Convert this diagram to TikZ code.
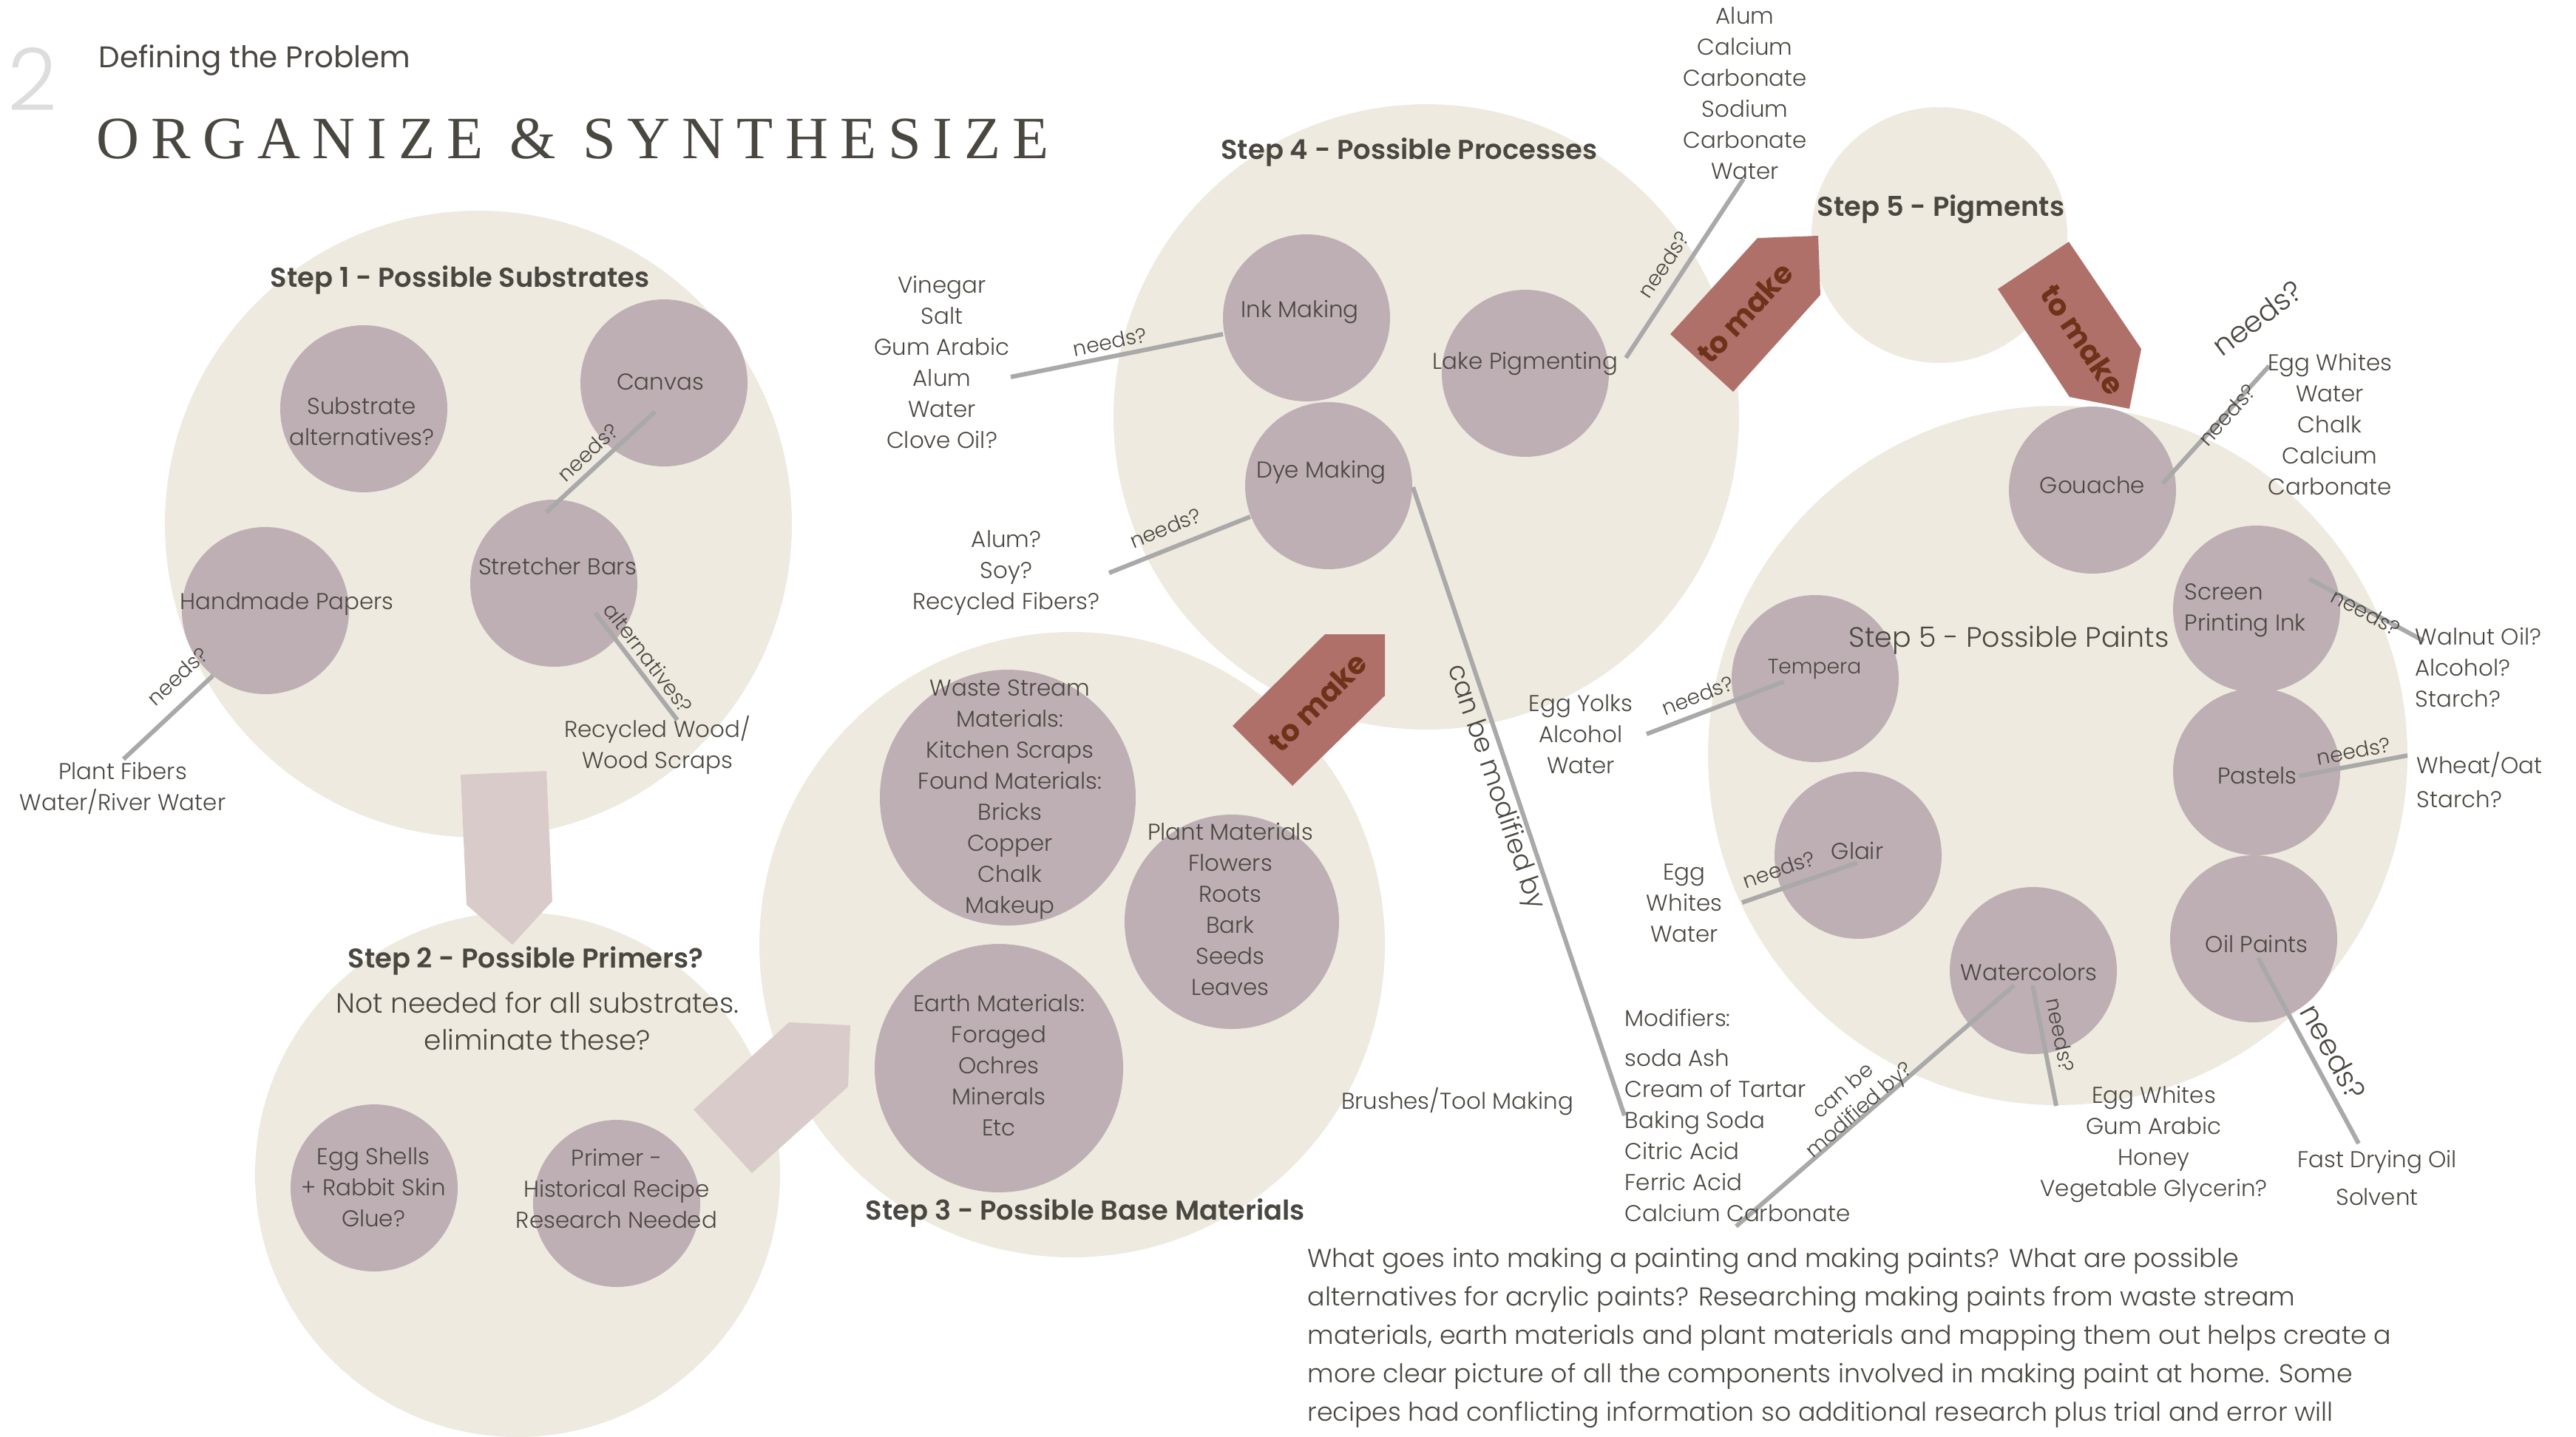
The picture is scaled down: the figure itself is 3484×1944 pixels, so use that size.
\documentclass[tikz,border=0pt]{standalone}
\usepackage{fontspec}
\usepackage{graphicx}
\setmainfont{Poppins}
\newfontfamily\lightfont{Poppins Light}
\newfontfamily\headfont{Poppins SemiBold}
\newfontfamily\titleserif[LetterSpace=20]{Liberation Serif}
\usetikzlibrary{calc}

\definecolor{ink}{HTML}{4A4741}
\definecolor{bigfill}{HTML}{EEEADF}
\definecolor{smallfill}{HTML}{BEAFB4}
\definecolor{palearrow}{HTML}{D9CBCA}
\definecolor{redarrow}{HTML}{B0706A}
\definecolor{redtext}{HTML}{6E3219}
\definecolor{linkgray}{HTML}{A9A9A9}
\definecolor{numgray}{HTML}{DDDDDD}

\tikzset{
  bigc/.style={circle, fill=bigfill, inner sep=0pt, minimum size=#1},
  part/.style={circle, fill=smallfill, inner sep=0pt, minimum size=#1},
  part/.default=22.6mm,
  txt/.style={text=ink, font=\lightfont\fontsize{8.8}{11.95}\selectfont, align=center, inner sep=0pt},
  ltxt/.style={txt, align=left},
  lbl/.style={text=ink, font=\lightfont\fontsize{8}{9.6}\selectfont, inner sep=0pt, align=center},
  biglbl/.style={text=ink, font=\lightfont\fontsize{11.2}{13}\selectfont, inner sep=0pt},
  head/.style={text=ink, font=\headfont\fontsize{10.5}{12.6}\selectfont, inner sep=0pt},
  link/.style={draw=linkgray, line width=0.6mm},
  pale/.style={fill=palearrow},
  redtag/.style={fill=redarrow},
  tomake/.style={text=redtext, font=\bfseries\fontsize{11.4}{13}\selectfont, inner sep=0pt}
}

\begin{document}
\begin{tikzpicture}[x=0.1mm, y=-0.1mm]
\useasboundingbox (0,0) rectangle (3484,1944);
\fill[white] (0,0) rectangle (3484,1944);

% heading
\node[anchor=south west, inner sep=0pt, text=numgray] (num) at (10,150)
  {\resizebox{!}{8.5mm}{\lightfont 2}};
\node[anchor=base west, inner sep=0pt, text=ink, font=\fontsize{11.5}{14}\selectfont] (kicker) at (133,92)
  {Defining the Problem};
\node[anchor=south west, inner sep=0pt, text=ink] (title) at (130,216)
  {\resizebox{128.8mm}{5.4mm}{\titleserif ORGANIZE \& SYNTHESIZE}};

% step areas
\node[bigc=84.8mm] (s1) at (647,709) {};
\node[bigc=71mm]   (s2) at (700,1589) {};
\node[bigc=84.6mm] (s3) at (1450,1278) {};
\node[bigc=84.6mm] (s4) at (1929,564) {};
\node[bigc=34.6mm] (s5a) at (2623,318) {};
\node[bigc=94.6mm] (s5b) at (2783,1022) {};

% step 1
\node[part] (subalt) at (492,553) {};
\node[part] (canvas) at (898,518) {};
\node[part] (stretch) at (749,789) {};
\node[part] (paper) at (359,826) {};
% step 2
\node[part] (eggshell) at (506,1607) {};
\node[part] (primer) at (834,1628) {};
% step 3
\node[part=34.6mm] (waste) at (1363,1079) {};
\node[part=29mm] (plant) at (1666,1247) {};
\node[part=33.6mm] (earth) at (1351,1445) {};
% step 4
\node[part] (ink) at (1767,430) {};
\node[part] (dye) at (1797,657) {};
\node[part] (lake) at (2063,505) {};
% step 5 paints
\node[part] (gouache) at (2830,663) {};
\node[part] (screen) at (3052,824) {};
\node[part] (pastels) at (3052,1044) {};
\node[part] (oil) at (3048,1270) {};
\node[part] (tempera) at (2455,918) {};
\node[part] (glair) at (2513,1157) {};
\node[part] (water) at (2750,1313) {};

% flow arrows
\fill[pale] (623,1048) -- (739,1043) -- (747,1219) -- (693,1278) -- (631,1224) -- cycle;
\fill[pale] (1067,1383) -- (1150,1387) -- (1147,1470) -- (1017,1587) -- (938,1501) -- cycle;
\fill[redtag] (1792,858) -- (1873,858) -- (1873,941) -- (1748,1063) -- (1667,982) -- cycle;
\fill[redtag] (2377,322) -- (2459,319) -- (2462,399) -- (2344,530) -- (2259,452) -- cycle;
\fill[redtag] (2798,327) -- (2896,472) -- (2880,553) -- (2799,537) -- (2702,391) -- cycle;
\node[tomake, rotate=45] (make1) at (1782,950) {to make};
\node[tomake, rotate=47] (make2) at (2360,423) {to make};
\node[tomake, rotate=-56] (make3) at (2817,460) {to make};

% connector end points
\coordinate (canvas-a) at (886,557);   \coordinate (stretch-a) at (739,693);
\coordinate (paper-a) at (288,914);    \coordinate (fibers-a) at (167,1027);
\coordinate (stretch-b) at (805,829);  \coordinate (wood-a) at (916,974);
\coordinate (ink-a) at (1654,452);     \coordinate (inkneeds-a) at (1367,510);
\coordinate (dye-a) at (1691,699);     \coordinate (dyeneeds-a) at (1500,775);
\coordinate (dye-b) at (1911,659);     \coordinate (mods-a) at (2197,1509);
\coordinate (lake-a) at (2199,484);    \coordinate (lakeneeds-a) at (2358,242);
\coordinate (gouache-a) at (2925,654); \coordinate (gouneeds-a) at (3069,495);
\coordinate (screen-a) at (3123,783);  \coordinate (screenneeds-a) at (3278,867);
\coordinate (pastels-a) at (3109,1050);\coordinate (pastneeds-a) at (3256,1022);
\coordinate (tempera-a) at (2413,922); \coordinate (tempneeds-a) at (2227,993);
\coordinate (glair-a) at (2512,1167);  \coordinate (glairneeds-a) at (2356,1221);
\coordinate (water-a) at (2749,1333);  \coordinate (waterneeds-a) at (2781,1496);
\coordinate (water-b) at (2724,1333);  \coordinate (watermods-a) at (2348,1659);
\coordinate (oil-a) at (3054,1296);    \coordinate (oilneeds-a) at (3190,1547);

\draw[link] (canvas-a) -- (stretch-a);
\draw[link] (paper-a) -- (fibers-a);
\draw[link] (stretch-b) -- (wood-a);
\draw[link] (ink-a) -- (inkneeds-a);
\draw[link] (dye-a) -- (dyeneeds-a);
\draw[link] (dye-b) -- (mods-a);
\draw[link] (lake-a) -- (lakeneeds-a);
\draw[link] (gouache-a) -- (gouneeds-a);
\draw[link] (screen-a) -- (screenneeds-a);
\draw[link] (pastels-a) -- (pastneeds-a);
\draw[link] (tempera-a) -- (tempneeds-a);
\draw[link] (glair-a) -- (glairneeds-a);
\draw[link] (water-a) -- (waterneeds-a);
\draw[link] (water-b) -- (watermods-a);
\draw[link] (oil-a) -- (oilneeds-a);

% connector labels
\node[lbl, rotate=42.8] (l1) at (795,612) {needs?};
\node[lbl, rotate=43] (l2) at (240,915) {needs?};
\node[lbl, rotate=-52.6] (l3) at (877,890) {alternatives?};
\node[lbl, rotate=11.4] (l4) at (1501,462) {needs?};
\node[lbl, rotate=21.7] (l5) at (1576,714) {needs?};
\node[text=ink, font=\lightfont\fontsize{10.2}{12}\selectfont, inner sep=0pt, rotate=-71.4] (l6) at (2022,1065) {can be modified by};
\node[lbl, rotate=56.5] (l7) at (2250,358) {needs?};
\node[lbl, rotate=48] (l8) at (3012,561) {needs?};
\node[biglbl, rotate=37] (l9) at (3053,430) {needs?};
\node[lbl, rotate=-28.5] (l10) at (3200,828) {needs?};
\node[lbl, rotate=11] (l11) at (3183,1016) {needs?};
\node[lbl, rotate=21] (l12) at (2296,941) {needs?};
\node[lbl, rotate=19] (l13) at (2406,1176) {needs?};
\node[lbl, rotate=-79] (l14) at (2787,1400) {needs?};
\node[lbl, rotate=41] (l15) at (2505,1490) {can be\\modified by?};
\node[biglbl, rotate=-61.5] (l16) at (3156,1423) {needs?};

% step titles
\node[head] (h1) at (622,379) {Step 1 - Possible Substrates};
\node[head] (h2) at (711,1300) {Step 2 - Possible Primers?};
\node[head] (h3) at (1468,1641) {Step 3 - Possible Base Materials};
\node[head] (h4) at (1906,206) {Step 4 - Possible Processes};
\node[head] (h5) at (2625,283) {Step 5 - Pigments};
\node[text=ink, font=\lightfont\fontsize{10.8}{13}\selectfont, inner sep=0pt] (h6) at (2717,866) {Step 5 - Possible Paints};
\node[txt, font=\lightfont\fontsize{10.7}{14.2}\selectfont] (h2note) at (727,1381) {Not needed for all substrates.\\eliminate these?};

% texts in circles
\node[txt] (subalt-t) at (489,570) {Substrate\\alternatives?};
\node[txt] (canvas-t) at (893,517) {Canvas};
\node[txt] (stretch-t) at (754,766) {Stretcher Bars};
\node[txt] (paper-t) at (388,817) {Handmade Papers};
\node[txt] (eggshell-t) at (505,1606) {Egg Shells\\+ Rabbit Skin\\Glue?};
\node[txt] (primer-t) at (834,1608) {Primer -\\Historical Recipe\\Research Needed};
\node[txt] (waste-t) at (1366,1082) {Waste Stream\\Materials:\\Kitchen Scraps\\Found Materials:\\Bricks\\Copper\\Chalk\\Makeup};
\node[txt] (plant-t) at (1664,1230) {Plant Materials\\Flowers\\Roots\\Bark\\Seeds\\Leaves};
\node[txt] (earth-t) at (1351,1441) {Earth Materials:\\Foraged\\Ochres\\Minerals\\Etc};
\node[txt] (ink-t) at (1758,422) {Ink Making};
\node[txt] (dye-t) at (1787,639) {Dye Making};
\node[txt] (lake-t) at (2063,492) {Lake Pigmenting};
\node[txt] (gouache-t) at (2830,656) {Gouache};
\node[ltxt, anchor=west] (screen-t) at (2954,826) {Screen\\Printing Ink};
\node[txt] (pastels-t) at (3053,1049) {Pastels};
\node[txt] (oil-t) at (3052,1277) {Oil Paints};
\node[lbl] (tempera-t) at (2454,905) {Tempera};
\node[txt] (glair-t) at (2512,1151) {Glair};
\node[txt] (water-t) at (2744,1315) {Watercolors};

% ingredient lists
\node[txt] (fibers) at (166,1066) {Plant Fibers\\Water/River Water};
\node[txt] (wood) at (889,1008) {Recycled Wood/\\Wood Scraps};
\node[txt] (inkneeds) at (1274,490) {Vinegar\\Salt\\Gum Arabic\\Alum\\Water\\Clove Oil?};
\node[txt] (dyeneeds) at (1361,775) {Alum?\\Soy?\\Recycled Fibers?};
\node[txt] (lakeneeds) at (2360,126) {Alum\\Calcium\\Carbonate\\Sodium\\Carbonate\\Water};
\node[txt] (tools) at (1971,1490) {Brushes/Tool Making};
\node[txt, anchor=west] (modhead) at (2197,1377) {Modifiers:};
\node[ltxt, anchor=west] (mods) at (2197,1536) {soda Ash\\Cream of Tartar\\Baking Soda\\Citric Acid\\Ferric Acid\\Calcium Carbonate};
\node[txt] (gouneeds) at (3151,574) {Egg Whites\\Water\\Chalk\\Calcium\\Carbonate};
\node[ltxt, anchor=west] (screenneeds) at (3266,903) {Walnut Oil?\\Alcohol?\\Starch?};
\node[ltxt, anchor=west, font=\lightfont\fontsize{8.8}{13}\selectfont] (pastneeds) at (3268,1055) {Wheat/Oat\\Starch?};
\node[txt] (tempneeds) at (2138,993) {Egg Yolks\\Alcohol\\Water};
\node[txt] (glairneeds) at (2278,1222) {Egg\\Whites\\Water};
\node[txt] (waterneeds) at (2913,1548) {Egg Whites\\Gum Arabic\\Honey\\Vegetable Glycerin?};
\node[txt, font=\lightfont\fontsize{8.8}{14.5}\selectfont] (oilneeds) at (3215,1593) {Fast Drying Oil\\Solvent};

% closing paragraph
\node[ltxt, anchor=north west, font=\lightfont\fontsize{9.9}{14.8}\selectfont] (para) at (1768,1688)
  {What goes into making a painting and making paints? What are possible\\
   alternatives for acrylic paints? Researching making paints from waste stream\\
   materials, earth materials and plant materials and mapping them out helps create a\\
   more clear picture of all the components involved in making paint at home. Some\\
   recipes had conflicting information so additional research plus trial and error will};
\end{tikzpicture}
\end{document}
